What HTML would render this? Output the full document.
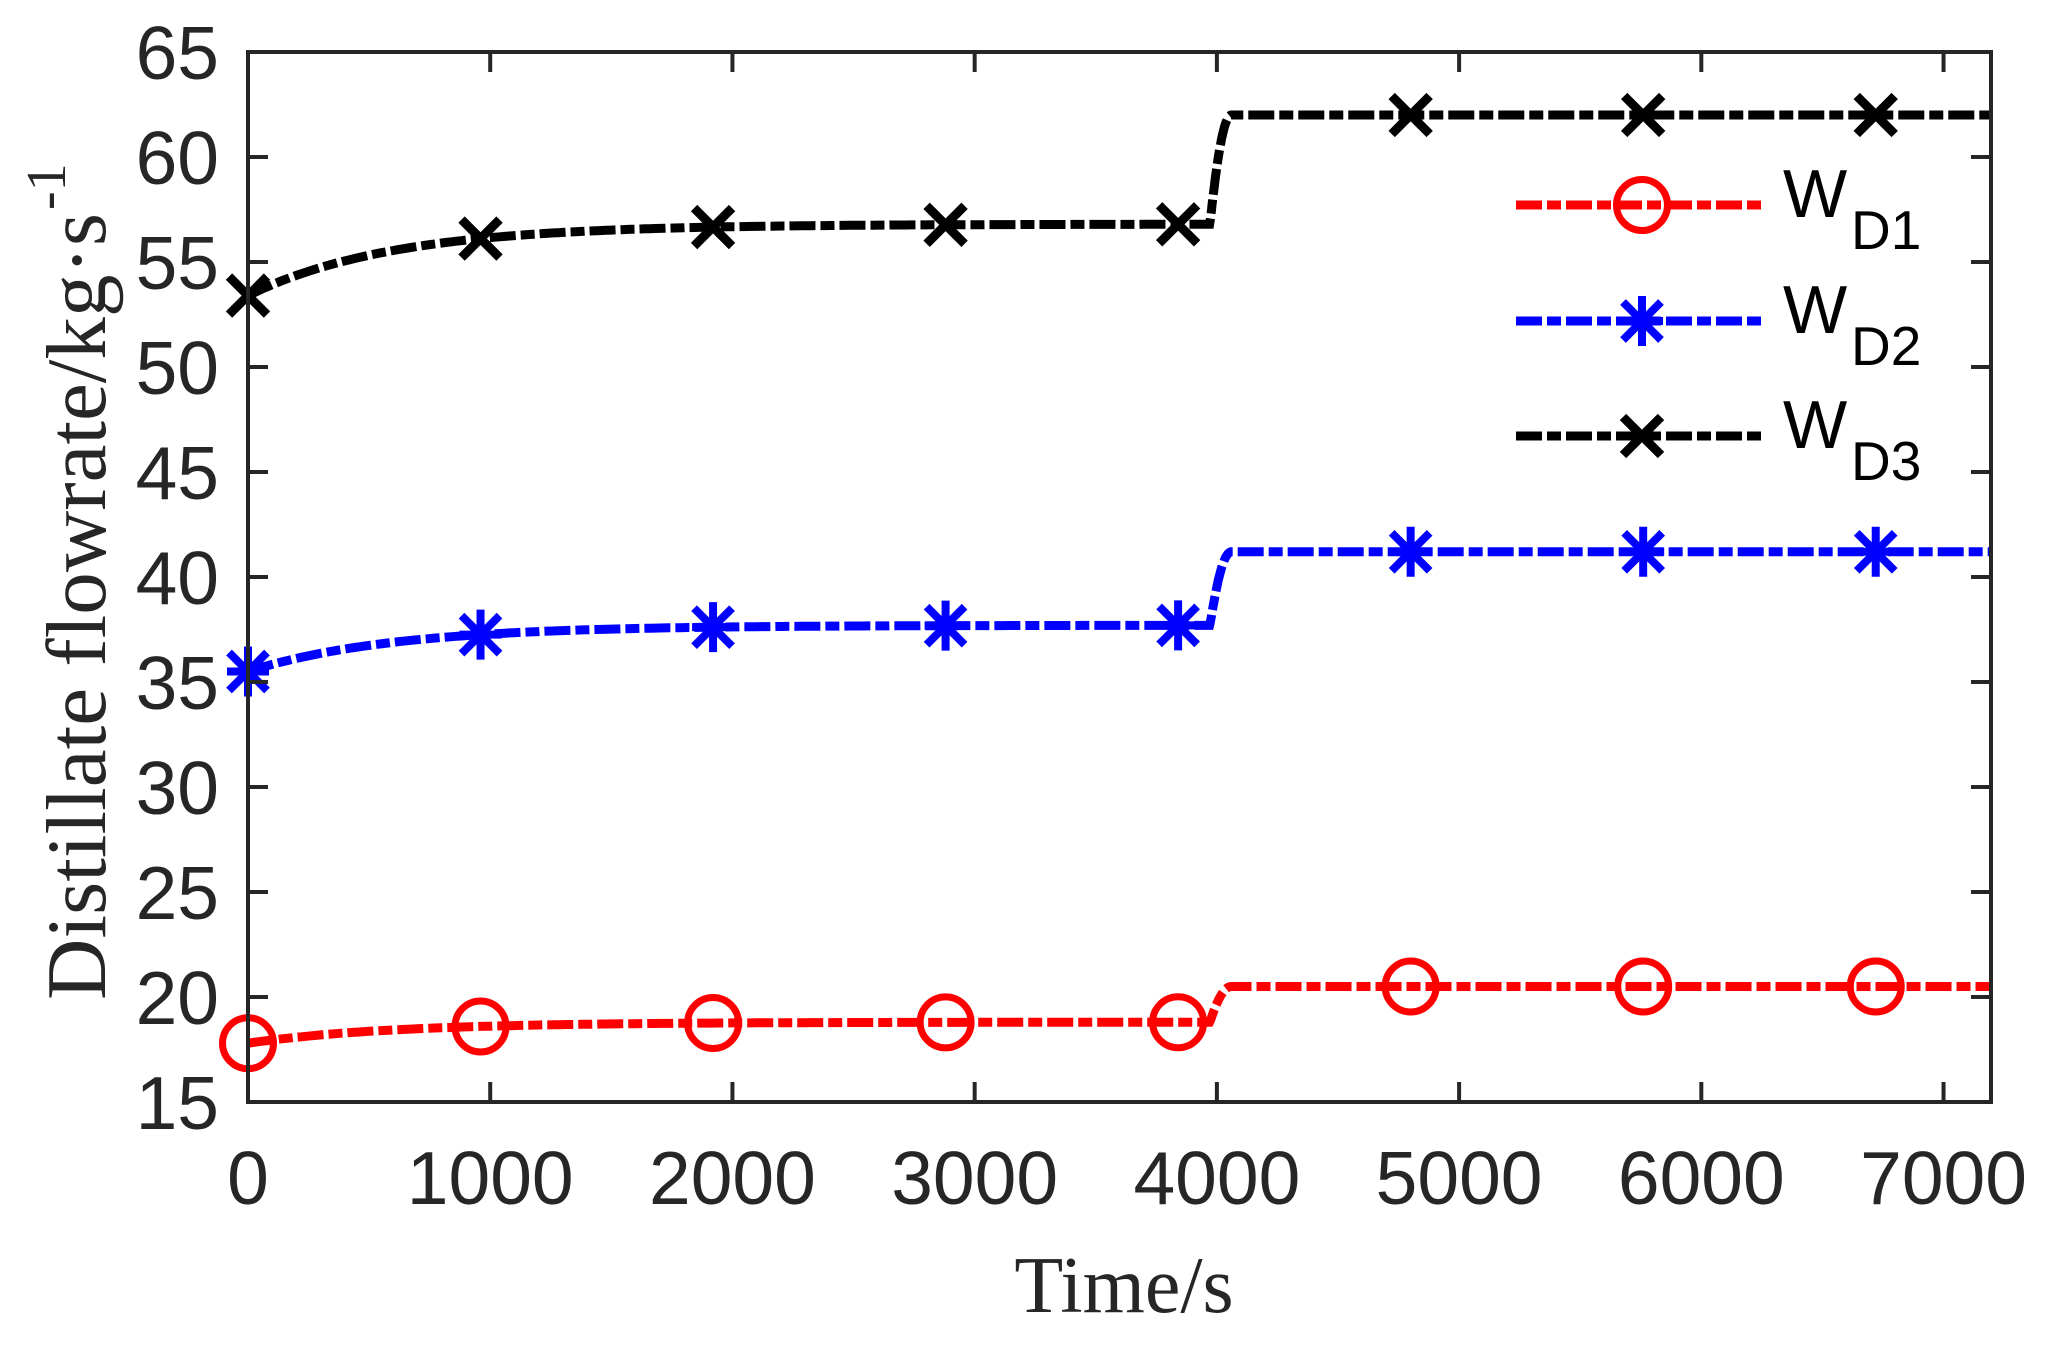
<!DOCTYPE html>
<html><head><meta charset="utf-8"><style>
html,body{margin:0;padding:0;background:#fff;}
svg{display:block;}
</style></head><body>
<svg id="s" width="2050" height="1353" xmlns="http://www.w3.org/2000/svg">
<rect width="2050" height="1353" fill="#fff"/>
<g id="plot"></g>
<g id="axes" stroke="#262626" stroke-width="4" fill="none"></g>
<g id="lbl" font-family="Liberation Sans, Arial, sans-serif" font-size="75" fill="#262626"></g>
<text font-family="Liberation Serif, Times New Roman, serif" font-size="80" fill="#262626" x="1124" y="1312" text-anchor="middle">Time/s</text>
<g transform="translate(105,1000) rotate(-90)" font-family="Liberation Serif, Times New Roman, serif" fill="#262626">
<text x="0" y="0" font-size="85" textLength="787" lengthAdjust="spacingAndGlyphs">Distillate flowrate/kg·s</text>
<text x="790" y="-40" font-size="56">-1</text>
</g>
<g id="leg" font-family="Liberation Sans, Arial, sans-serif" fill="#000"></g>
</svg>
<script>
var NS="http://www.w3.org/2000/svg";
function X(t){return 248+t*0.24222;}
function Y(v){return 1102-(v-15)*21;}
function el(p,tag,a,txt){var e=document.createElementNS(NS,tag);for(var k in a)e.setAttribute(k,a[k]);if(txt!==undefined)e.textContent=txt;p.appendChild(e);return e;}
var axes=document.getElementById('axes'),lbl=document.getElementById('lbl'),plot=document.getElementById('plot'),leg=document.getElementById('leg');
el(axes,'rect',{x:248,y:52,width:1743,height:1050});
for(var v=15;v<=65;v+=5){var y=Y(v);
 el(axes,'line',{x1:248,y1:y,x2:268,y2:y});el(axes,'line',{x1:1991,y1:y,x2:1971,y2:y});
 el(lbl,'text',{x:219,y:y+27,'text-anchor':'end'},String(v));}
for(var t=0;t<=7000;t+=1000){var x=X(t);
 el(axes,'line',{x1:x,y1:1102,x2:x,y2:1082});el(axes,'line',{x1:x,y1:52,x2:x,y2:72});
 el(lbl,'text',{x:x,y:1204,'text-anchor':'middle'},String(t));}
function sm(s){return s*s*(3-2*s);}
var series=[
 {c:'#ff0000',a:18.8,d:1.0,b:20.5,m:'o'},
 {c:'#0000ff',a:37.7,d:2.2,b:41.2,m:'*'},
 {c:'#000000',a:56.8,d:3.4,b:62.0,m:'x'}];
function f(S,t){var base=S.a-S.d*Math.exp(-t/600);
 if(t<3970)return base;
 if(t>4060)return S.b;
 var s=(t-3970)/90;var r=Math.pow(s,0.6);return base+(S.b-base)*sm(Math.min(1,r));}
function marker(p,m,x,y,c){
 if(m==='o')el(p,'circle',{cx:x,cy:y,r:25.5,fill:'none',stroke:c,'stroke-width':7});
 else if(m==='*'){var g=el(p,'g',{stroke:c,'stroke-width':8});
  el(g,'line',{x1:x-21,y1:y,x2:x+21,y2:y});el(g,'line',{x1:x,y1:y-25,x2:x,y2:y+25});
  el(g,'line',{x1:x-19,y1:y-19,x2:x+19,y2:y+19});el(g,'line',{x1:x-19,y1:y+19,x2:x+19,y2:y-19});}
 else {var g=el(p,'g',{stroke:c,'stroke-width':9});
  el(g,'line',{x1:x-19,y1:y-19,x2:x+19,y2:y+19});el(g,'line',{x1:x-19,y1:y+19,x2:x+19,y2:y-19});}}
series.forEach(function(S){
 var d='';for(var t=0;t<=7200;t+=(t>3900&&t<4100?2:20)){d+=(d?'L':'M')+X(t).toFixed(1)+' '+Y(f(S,t)).toFixed(1);}
 el(plot,'path',{d:d,fill:'none',stroke:S.c,'stroke-width':9,'stroke-dasharray':'26 5 14 5'});
 for(var i=0;i<8;i++){var t=i*960;marker(plot,S.m,X(t),Y(f(S,t)),S.c);}
});
var ly=[205,321,436],subs=['D1','D2','D3'];
series.forEach(function(S,i){var y=ly[i];
 el(leg,'line',{x1:1516,y1:y,x2:1761,y2:y,stroke:S.c,'stroke-width':9,'stroke-dasharray':'26 5 14 5'});
 marker(leg,S.m,1642,y,S.c);
 el(leg,'text',{x:1783,y:y+12,'font-size':68},'W');
 el(leg,'text',{x:1851,y:y+44,'font-size':55},subs[i]);
});
</script>
</body></html>
